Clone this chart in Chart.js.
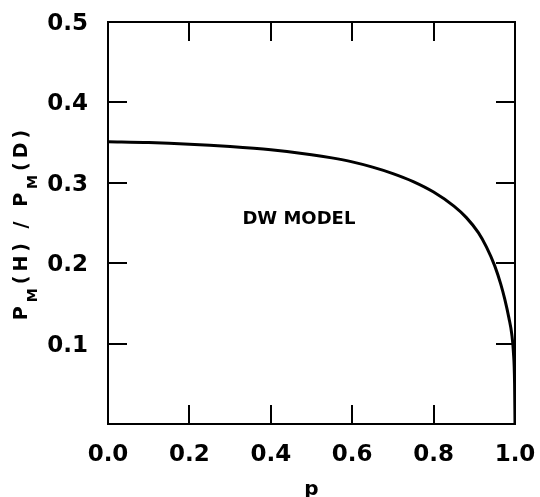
<!DOCTYPE html>
<html>
<head>
<meta charset="utf-8">
<script src="https://cdn.jsdelivr.net/npm/chart.js@4"></script>
<style>
  html, body { margin: 0; padding: 0; background: #fff; overflow: hidden; }
</style>
</head>
<body>
<canvas id="chart" width="540" height="511"></canvas>
<script>
// curve: ratio P_M(H)/P_M(D) against p
const pValues = [0, 0.1, 0.2, 0.3, 0.4, 0.5, 0.55, 0.6, 0.65, 0.7, 0.75, 0.8, 0.85, 0.88, 0.91, 0.93, 0.95, 0.965, 0.975, 0.985, 0.992, 0.996, 0.999, 1.0];
const ratioValues = [0.351, 0.350, 0.348, 0.345, 0.341, 0.335, 0.331, 0.326, 0.3195, 0.3115, 0.3015, 0.2885, 0.271, 0.257, 0.238, 0.220, 0.197, 0.174, 0.155, 0.132, 0.112, 0.090, 0.05, 0.0];

const xTicks = [0, 0.2, 0.4, 0.6, 0.8, 1.0];
const yTicks = [0.1, 0.2, 0.3, 0.4, 0.5];

const modelLabel = { text: 'DW MODEL', x: 0.469, y: 0.255 };
// y title pieces: [text, isSubscript]
const yTitleParts = [['P', false], ['M', true], ['(H) / ', false], ['P', false], ['M', true], ['(D)', false]];

const FONT = '"DejaVu Sans", sans-serif';
const INK = '#000';

const frameTicks = {
  color: INK,
  lineWidth: 2,
  drawOnChartArea: false,
  drawTicks: true,
  tickLength: -19
};

// the big label paddings would otherwise push the plot area in
function noLabelPadding(s) {
  s.paddingTop = s.paddingBottom = s.paddingLeft = s.paddingRight = 0;
}

const textPlugin = {
  id: 'textPlugin',
  afterDraw(chart) {
    const ctx = chart.ctx;
    const { x, y } = chart.scales;
    ctx.save();
    ctx.fillStyle = INK;

    // model label inside the plot
    ctx.font = 'bold 18px ' + FONT;
    ctx.textAlign = 'center';
    ctx.textBaseline = 'middle';
    ctx.fillText(modelLabel.text, x.getPixelForValue(modelLabel.x), y.getPixelForValue(modelLabel.y));

    // rotated y title with subscripts
    const big = 'bold 19px ' + FONT;
    const small = 'bold 14px ' + FONT;
    ctx.letterSpacing = '4px';
    ctx.textAlign = 'left';
    ctx.textBaseline = 'alphabetic';
    let total = 0;
    yTitleParts.forEach(([t, sub]) => {
      ctx.font = sub ? small : big;
      total += ctx.measureText(t).width;
    });
    const centerY = (chart.chartArea.top + chart.chartArea.bottom) / 2;
    ctx.translate(27, centerY + total / 2);
    ctx.rotate(-Math.PI / 2);
    let pos = 0;
    yTitleParts.forEach(([t, sub]) => {
      ctx.font = sub ? small : big;
      ctx.fillText(t, pos, sub ? 10 : 0);
      pos += ctx.measureText(t).width;
    });
    ctx.restore();
  }
};

new Chart(document.getElementById('chart'), {
  type: 'line',
  data: {
    datasets: [{
      data: pValues.map((p, i) => ({ x: p, y: ratioValues[i] })),
      borderColor: INK,
      borderWidth: 3,
      pointRadius: 0,
      cubicInterpolationMode: 'monotone',
      fill: false
    }]
  },
  options: {
    responsive: false,
    animation: false,
    layout: { padding: { top: 22, right: 25, left: 0, bottom: 0 } },
    plugins: {
      legend: { display: false },
      tooltip: { enabled: false }
    },
    scales: {
      x: {
        type: 'linear',
        position: 'bottom',
        min: 0,
        max: 1,
        afterBuildTicks: s => { s.ticks = xTicks.map(v => ({ value: v })); },
        ticks: {
          color: INK,
          padding: 36,
          maxRotation: 0,
          font: { family: FONT, size: 23, weight: 'bold' },
          callback: v => v.toFixed(1)
        },
        grid: frameTicks,
        border: { display: true, color: INK, width: 2 },
        title: {
          display: true,
          text: 'p',
          color: INK,
          padding: { top: 0, bottom: 9 },
          font: { family: FONT, size: 20, weight: 'bold' }
        },
        afterFit: s => { s.height = 87; noLabelPadding(s); }
      },
      x2: {
        type: 'linear',
        position: 'top',
        min: 0,
        max: 1,
        afterBuildTicks: s => { s.ticks = xTicks.map(v => ({ value: v })); },
        ticks: { display: false },
        grid: frameTicks,
        border: { display: true, color: INK, width: 2 },
        afterFit: s => { s.height = 0; noLabelPadding(s); }
      },
      y: {
        type: 'linear',
        position: 'left',
        min: 0,
        max: 0.5,
        afterBuildTicks: s => { s.ticks = yTicks.map(v => ({ value: v })); },
        ticks: {
          color: INK,
          padding: 39,
          labelOffset: 2,
          font: { family: FONT, size: 23, weight: 'bold' },
          callback: v => v.toFixed(1)
        },
        grid: frameTicks,
        border: { display: true, color: INK, width: 2 },
        afterFit: s => { s.width = 108; noLabelPadding(s); }
      },
      y2: {
        type: 'linear',
        position: 'right',
        min: 0,
        max: 0.5,
        afterBuildTicks: s => { s.ticks = yTicks.map(v => ({ value: v })); },
        ticks: { display: false },
        grid: frameTicks,
        border: { display: true, color: INK, width: 2 },
        afterFit: s => { s.width = 0; noLabelPadding(s); }
      }
    }
  },
  plugins: [textPlugin]
});
</script>
</body>
</html>
